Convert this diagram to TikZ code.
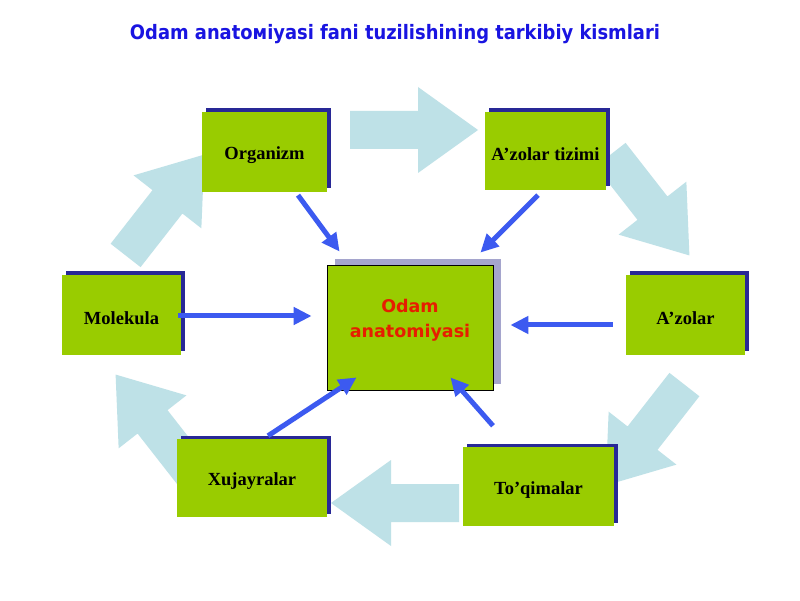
\documentclass[tikz,border=0pt]{standalone}
\usepackage{fontspec}
\setmainfont{Liberation Serif}
\newfontfamily\djv{DejaVu Sans}
\newfontfamily\djvc{DejaVu Sans Condensed}
\usetikzlibrary{arrows.meta,calc,shadows}
\definecolor{boxgreen}{RGB}{153,204,0}
\definecolor{shadowblue}{RGB}{40,40,150}
\definecolor{ctrshadow}{RGB}{165,165,205}
\definecolor{arrowblue}{RGB}{60,90,240}
\definecolor{titleblue}{RGB}{25,20,225}
\definecolor{ctrred}{RGB}{230,30,0}
\definecolor{bgcyan}{RGB}{190,225,231}
\newcommand\bgarrowshape[3]{%
  \fill[bgcyan, shift={(#1,#2)}, rotate=#3]
    (-64,-19) -- (4,-19) -- (4,-43) -- (64,0) -- (4,43) -- (4,19) -- (-64,19) -- cycle;}
\newcommand\lbl[1]{\raisebox{-3.5pt}[\height][\depth]{#1}}
\begin{document}
\begin{tikzpicture}[x=1pt,y=1pt,
  box/.style={fill=boxgreen, inner sep=0pt, text=black,
    font=\bfseries\fontsize{18.5}{21}\selectfont,
    copy shadow={shadow xshift=3.5pt, shadow yshift=3.5pt, fill=shadowblue, draw=none}},
  ctrbox/.style={fill=boxgreen, draw=black, line width=0.8pt, inner sep=0pt,
    copy shadow={shadow xshift=8pt, shadow yshift=6pt, fill=ctrshadow, draw=none}},
  ctrtext/.style={text=ctrred, align=center, inner sep=0pt,
    font=\djv\bfseries\fontsize{17.5}{25}\selectfont},
  conn/.style={draw=arrowblue, line width=5pt,
    -{Triangle[length=18pt,width=17pt]}},
  titletext/.style={text=titleblue, inner sep=0pt}
]
\useasboundingbox (0,0) rectangle (800,600);
\fill[white] (0,0) rectangle (800,600);

% background cycle of pale arrows
\bgarrowshape{414}{470}{0}
\bgarrowshape{650}{395}{-52}
\bgarrowshape{645}{165}{-128}
\bgarrowshape{395}{97}{180}
\bgarrowshape{155}{175}{128}
\bgarrowshape{165}{395}{52}

% title
\node[titletext] (title) at (395,566)
  {\resizebox{530pt}{!}{\djvc\bfseries Odam anatoмiyasi fani tuzilishining tarkibiy kismlari}};

% boxes
\node[box, minimum width=125pt, minimum height=80pt] (org) at (264.5,448) {\lbl{Organizm}};
\node[box, minimum width=121pt, minimum height=78pt] (tiz) at (545.5,449) {\lbl{A’zolar tizimi}};
\node[box, minimum width=119pt, minimum height=80pt] (mol) at (121.5,285) {\lbl{Molekula}};
\node[box, minimum width=119pt, minimum height=80pt] (azo) at (685.5,285) {\lbl{A’zolar}};
\node[box, minimum width=150pt, minimum height=78pt] (xuj) at (252,122) {\lbl{Xujayralar}};
\node[box, minimum width=151pt, minimum height=79pt] (toq) at (538.5,113.5) {\lbl{To’qimalar}};
\node[ctrbox, minimum width=166pt, minimum height=125pt] (ctr) at (410,272.5) {};
\node[ctrtext] (ctrlabel) at ([yshift=7pt]ctr.center) {Odam\\anatomiyasi};

% connectors
\draw[conn] ($(org.south)+(33.5,-3)$) -- ($(ctr.north west)+(13,13)$);
\draw[conn] ($(tiz.south)+(-7.5,-5)$) -- ($(ctr.north east)+(-13,12)$);
\draw[conn] ($(mol.east)+(-3,-1)$) -- ($(mol.east -| ctr.west)+(-15,-1)$);
\draw[conn] ($(azo.west)+(-13,-10)$) -- ($(azo.west -| ctr.east)+(17,-10)$);
\draw[conn] ($(xuj.north)+(16,3)$) -- ($(ctr.south west)+(30,13)$);
\draw[conn] ($(toq.north)+(-45.5,21)$) -- ($(ctr.south east)+(-43,13)$);
\end{tikzpicture}
\end{document}
